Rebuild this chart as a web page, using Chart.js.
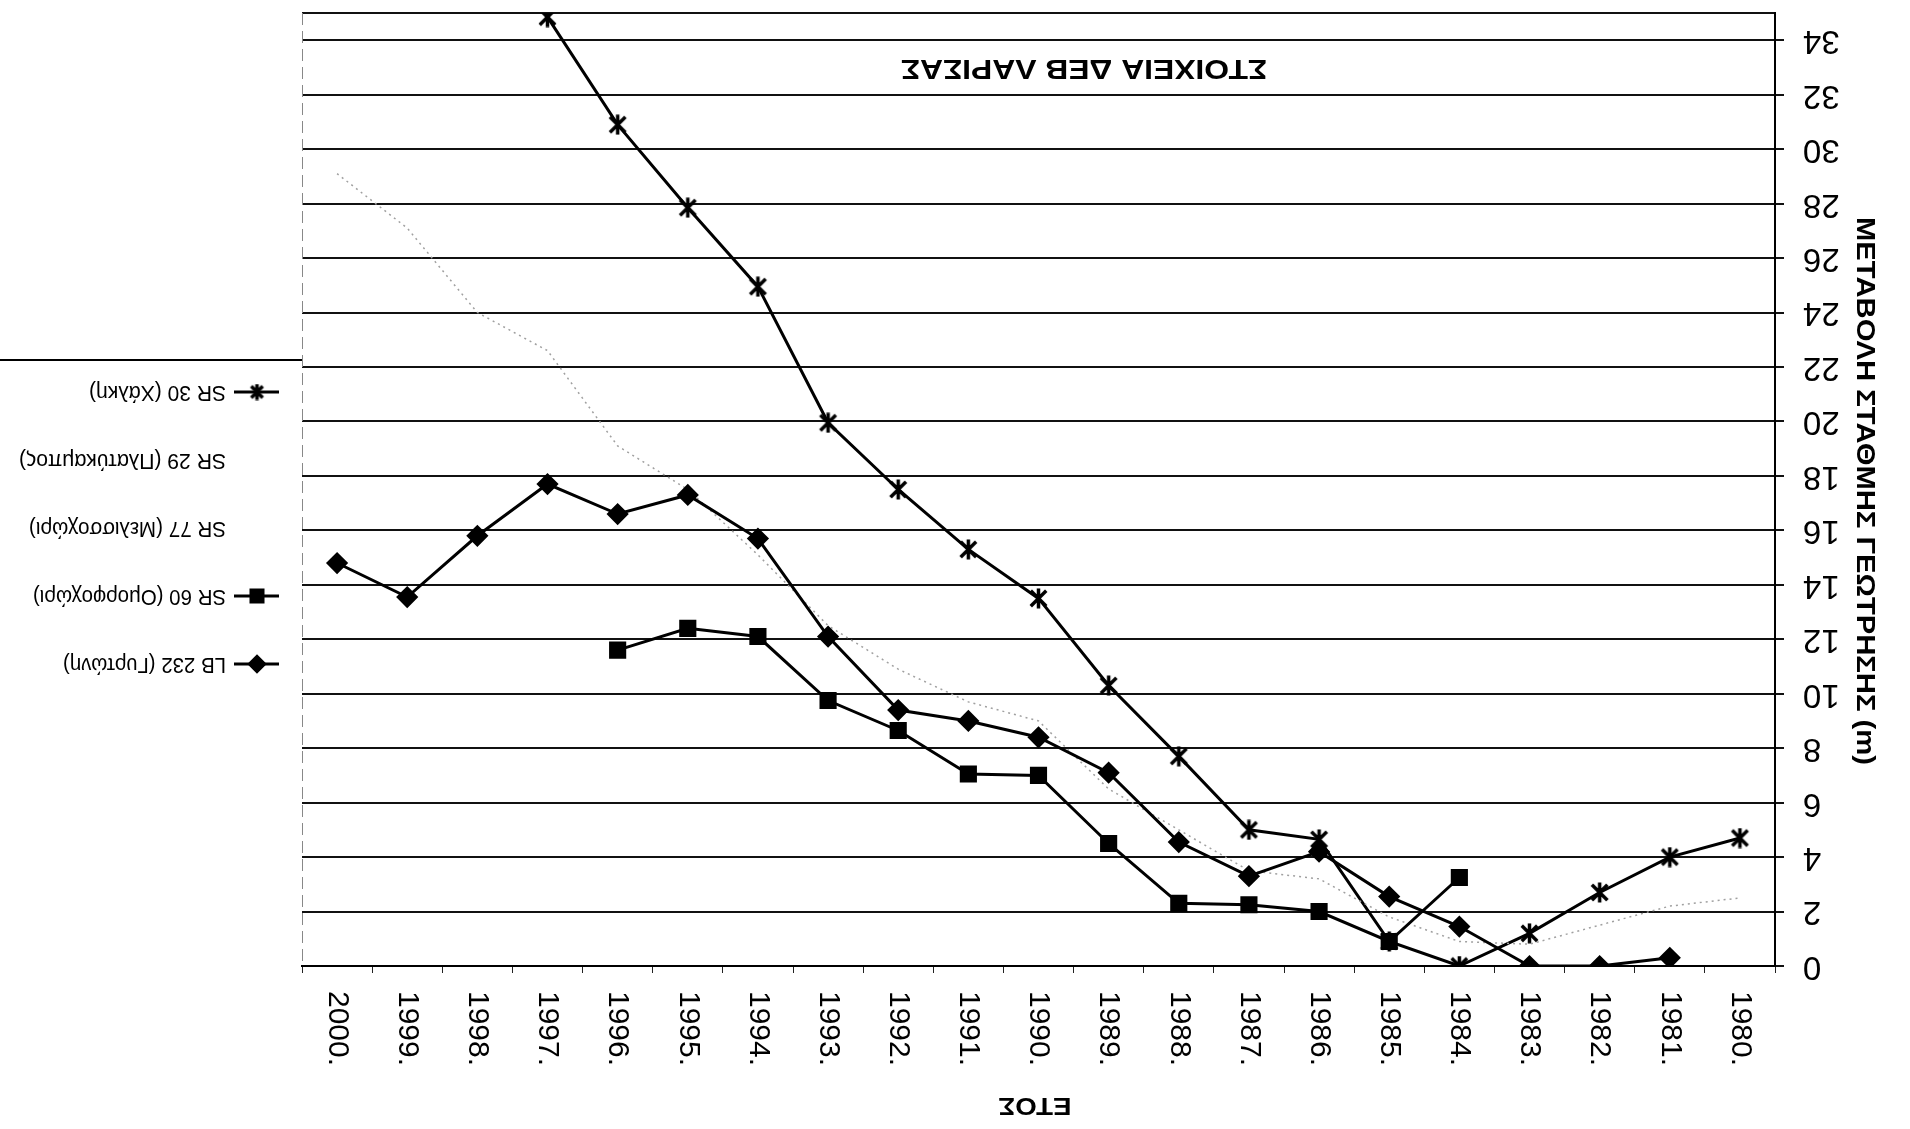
<!DOCTYPE html>
<html>
<head>
<meta charset="utf-8">
<title>ΣΤΟΙΧΕΙΑ ΔΕΒ ΛΑΡΙΣΑΣ</title>
<script src="https://cdn.jsdelivr.net/npm/chart.js@4.4.1/dist/chart.umd.min.js"></script>
<style>
  html, body { margin: 0; padding: 0; background: #fff; }
  #wrap { width: 1910px; height: 1129px; }
</style>
</head>
<body>
<div id="wrap"><canvas id="levelChart" width="1910" height="1129"></canvas></div>
<script>
// years, left to right as in the picture
const years = [2000, 1999, 1998, 1997, 1996, 1995, 1994, 1993, 1992, 1991, 1990,
               1989, 1988, 1987, 1986, 1985, 1984, 1983, 1982, 1981, 1980];
const yearLabels = years.map(y => y + '.');
const yTicks = [0, 2, 4, 6, 8, 10, 12, 14, 16, 18, 20, 22, 24, 26, 28, 30, 32, 34];

// water level change (m) per borehole
const lb232 = [14.8, 13.55, 15.8, 17.7, 16.6, 17.3, 15.7, 12.1, 9.4, 9.0, 8.4,
               7.1, 4.55, 3.3, 4.2, 2.55, 1.45, 0, 0, 0.3, null];
const sr60  = [null, null, null, null, 11.6, 12.4, 12.1, 9.75, 8.65, 7.05, 7.0,
               4.5, 2.3, 2.25, 2.0, 0.9, 3.25, null, null, null, null];
const sr77  = [null, null, null, null, null, null, null, null, null, null, null,
               null, null, null, null, null, null, null, null, null, null];
const sr29  = [29.1, 27.1, 24.0, 22.6, 19.1, 17.5, 15.1, 12.5, 10.9, 9.7, 9.0,
               6.5, 5.0, 3.5, 3.2, 1.8, 0.9, 0.8, 1.5, 2.2, 2.5];
const sr30  = [null, null, null, 34.85, 30.9, 27.85, 24.95, 19.95, 17.5, 15.3, 13.5,
               10.3, 7.7, 5.0, 4.65, 0.9, 0, 1.2, 2.7, 4.0, 4.7];

const seriesNames = ['LB 232 (Γυρτώνη)', 'SR 60 (Ομορφοχώρι)', 'SR 77 (Μελισσοχώρι)',
                     'SR 29 (Πλατύκαμπος)', 'SR 30 (Χάλκη)'];

const chartTitle = 'ΣΤΟΙΧΕΙΑ ΔΕΒ ΛΑΡΙΣΑΣ';
const xTitle = 'ΕΤΟΣ';
const yTitle = 'ΜΕΤΑΒΟΛΗ ΣΤΑΘΜΗΣ ΓΕΩΤΡΗΣΗΣ (m)';

const FONT = '"Liberation Sans", Arial, sans-serif';

// excel-like star marker: an X with a vertical bar
function makeStar(size, lw) {
  const c = document.createElement('canvas');
  c.width = c.height = size;
  const g = c.getContext('2d');
  g.strokeStyle = '#000';
  g.lineWidth = lw;
  const m = lw / 2 + 1, s = size;
  g.beginPath();
  g.moveTo(m, m); g.lineTo(s - m, s - m);
  g.moveTo(s - m, m); g.lineTo(m, s - m);
  g.moveTo(s / 2, 0.5); g.lineTo(s / 2, s - 0.5);
  g.stroke();
  return c;
}
const starBig = makeStar(21, 3.5);
const starSmall = makeStar(17, 3.5);

function drawText(ctx, s, x, y, rot, font, align, fitW) {
  ctx.save();
  ctx.translate(x, y);
  ctx.rotate(rot);
  ctx.font = font;
  ctx.fillStyle = '#000';
  ctx.textAlign = align;
  ctx.textBaseline = 'middle';
  if (fitW) {
    const w = ctx.measureText(s).width;
    ctx.scale(fitW / w, 1);
  }
  ctx.fillText(s, 0, 0);
  ctx.restore();
}

// legend text widths as measured on the scan, same order as datasets
const legendWidths = [163, 193, 197, 207, 137];

// the scan is upside down, so all text is drawn by hand
const textPlugin = {
  id: 'textPlugin',
  afterDraw(chart) {
    const ctx = chart.ctx;
    const xs = chart.scales.x, ys = chart.scales.y;
    const area = chart.chartArea;

    // faint left border
    ctx.save();
    ctx.strokeStyle = '#888';
    ctx.lineWidth = 1;
    ctx.setLineDash([12, 6]);
    ctx.beginPath();
    ctx.moveTo(area.left + 0.5, area.top);
    ctx.lineTo(area.left + 0.5, area.bottom);
    ctx.stroke();
    ctx.restore();

    yTicks.forEach(v => {
      drawText(ctx, String(v), 1803, ys.getPixelForValue(v), Math.PI, '33px ' + FONT, 'right');
    });
    yearLabels.forEach((lab, i) => {
      drawText(ctx, lab, xs.getPixelForValue(i), 991, Math.PI / 2, '30px ' + FONT, 'left');
    });

    drawText(ctx, chartTitle, 1084, 67, Math.PI, 'bold 27px ' + FONT, 'center', 366);
    drawText(ctx, xTitle, 1035, 1105, Math.PI, 'bold 24px ' + FONT, 'center', 73);
    drawText(ctx, yTitle, 1864, 491, Math.PI / 2, 'bold 26px ' + FONT, 'center', 548);

    // legend, also upside down
    ctx.save();
    ctx.strokeStyle = '#000';
    ctx.lineWidth = 2;
    ctx.beginPath();
    ctx.moveTo(0, 360);
    ctx.lineTo(area.left, 360);
    ctx.stroke();
    ctx.restore();

    chart.data.datasets.forEach((ds, i) => {
      const y = 664 - i * 68;
      if (ds.pointRadius > 0) {
        ctx.save();
        ctx.strokeStyle = ds.borderColor;
        ctx.lineWidth = ds.borderWidth;
        ctx.beginPath();
        ctx.moveTo(234, y);
        ctx.lineTo(279, y);
        ctx.stroke();
        ctx.fillStyle = ds.pointBackgroundColor;
        ctx.strokeStyle = ds.pointBorderColor;
        const style = ds.pointStyle === starBig ? starSmall : ds.pointStyle;
        Chart.helpers.drawPoint(ctx, {
          pointStyle: style, rotation: 0,
          radius: ds.pointRadius * 0.85, borderWidth: 1
        }, 257, y);
        ctx.restore();
      }
      drawText(ctx, ds.label, 226, y, Math.PI, '22px ' + FONT, 'left', legendWidths[i]);
    });
  }
};

const datasets = [
  { label: seriesNames[0], data: lb232, borderColor: '#000', borderWidth: 3,
    pointStyle: 'rectRot', pointRadius: 9, pointBackgroundColor: '#000', pointBorderColor: '#000' },
  { label: seriesNames[1], data: sr60, borderColor: '#000', borderWidth: 3,
    pointStyle: 'rect', pointRadius: 10, pointBackgroundColor: '#000', pointBorderColor: '#000' },
  { label: seriesNames[2], data: sr77, borderColor: '#c8c8c8', borderWidth: 1.5, borderDash: [8, 5],
    pointRadius: 0 },
  { label: seriesNames[3], data: sr29, borderColor: '#a0a0a0', borderWidth: 1.5, borderDash: [2, 4],
    pointRadius: 0 },
  { label: seriesNames[4], data: sr30, borderColor: '#000', borderWidth: 3,
    pointStyle: starBig, pointRadius: 10, pointBackgroundColor: '#000', pointBorderColor: '#000' }
];

new Chart(document.getElementById('levelChart'), {
  type: 'line',
  data: { labels: yearLabels, datasets: datasets },
  plugins: [textPlugin],
  options: {
    responsive: false,
    animation: false,
    layout: { padding: { left: 302, top: 6, right: 0, bottom: 0 } },
    plugins: { legend: { display: false }, title: { display: false }, tooltip: { enabled: false } },
    elements: { line: { tension: 0 } },
    scales: {
      x: {
        type: 'category',
        offset: true,
        ticks: { display: false },
        grid: { offset: true, drawOnChartArea: false, drawTicks: true, tickLength: 7,
                tickWidth: 1, tickColor: '#222' },
        border: { display: true, color: '#000', width: 2 },
        afterFit(scale) { scale.height = 163; }
      },
      y: {
        position: 'right',
        min: 0,
        max: 35,
        ticks: { display: false, stepSize: 2 },
        grid: {
          color: '#111', lineWidth: 2, drawTicks: true, tickLength: 9,
          tickColor: ctx => (ctx.tick && ctx.tick.value === 35 ? 'rgba(0,0,0,0)' : '#111')
        },
        border: { display: true, color: '#000', width: 2 },
        afterFit(scale) { scale.width = 135; }
      }
    }
  }
});
</script>
</body>
</html>
